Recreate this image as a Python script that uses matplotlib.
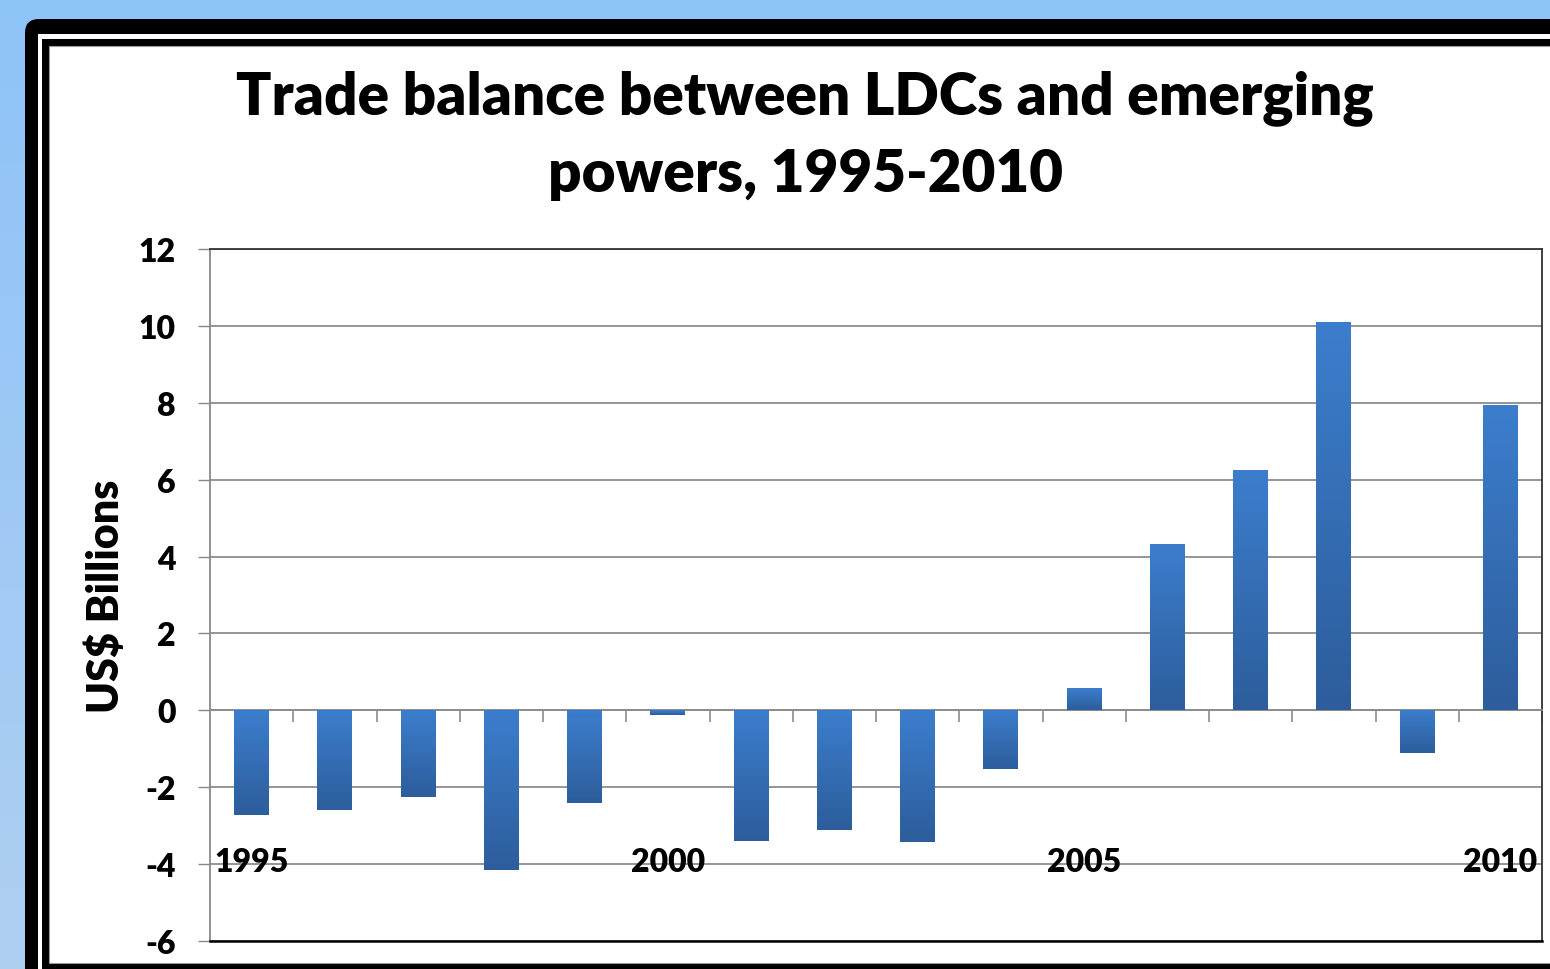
import numpy as np
import matplotlib
matplotlib.use("Agg")
from matplotlib import pyplot as plt
from matplotlib.patches import FancyBboxPatch, Rectangle

plt.rcParams['font.family'] = ['Lato', 'DejaVu Sans']
plt.rcParams['font.weight'] = 'heavy'
plt.rcParams['axes.unicode_minus'] = False

years = list(range(1995, 2011))
balance = [-2.73, -2.6, -2.26, -4.16, -2.42, -0.13, -3.41, -3.12,
           -3.43, -1.53, 0.57, 4.32, 6.24, 10.09, -1.12, 7.93]
year_labels = ['1995', '2000', '2005', '2010']
y_ticks = [-6, -4, -2, 0, 2, 4, 6, 8, 10, 12]

W, H = 1550, 970
fig = plt.figure(figsize=(W / 100, H / 100), dpi=100)

# background + slide frame, drawn in pixel coords
bg = fig.add_axes([0, 0, 1, 1], zorder=-10)
bg.set_xlim(0, W)
bg.set_ylim(H, 0)
bg.axis('off')
grad = np.linspace(0, 1, 256).reshape(-1, 1)
bg.imshow(grad, extent=[0, W, H, 0], aspect='auto',
          cmap=matplotlib.colors.LinearSegmentedColormap.from_list('bgc', ['#8ec3f8', '#afcff1']))
bg.add_patch(FancyBboxPatch((25, 20), 1600, 1000, boxstyle='round,pad=0,rounding_size=14',
                            fc='black', ec='none'))
bg.add_patch(Rectangle((38, 35), 1600, 1000, fc='white', ec='none'))
bg.add_patch(Rectangle((42, 40), 1600, 1000, fc='black', ec='none'))
bg.add_patch(Rectangle((49, 47), 1600, 917, fc='white', ec='#999999', lw=0.8))

fig.text(805 / W, 1 - 136 / H, 'Trade balance between LDCs and emerging\npowers, 1995-2010',
         ha='center', va='center', fontsize=42, fontweight='heavy', linespacing=1.5)

ax = fig.add_axes([210 / W, 28 / H, 1332 / W, 692 / H])
ax.set_facecolor('white')
x = np.arange(len(years))
width = 0.42
bars = ax.bar(x, balance, width=width, color='#3470b8', zorder=3)

# vertical gradient inside each bar (lighter on top)
cmap = matplotlib.colors.LinearSegmentedColormap.from_list('barc', ['#3c7ecd', '#2d5d9b'])
for b in bars:
    x0, y0 = b.get_x(), b.get_y()
    bw, bh = b.get_width(), b.get_height()
    top, bot = max(y0, y0 + bh), min(y0, y0 + bh)
    im = ax.imshow(grad, extent=[x0, x0 + bw, bot, top], origin='upper',
                   aspect='auto', cmap=cmap, zorder=4)
    im.set_clip_path(b)

ax.set_xlim(-0.5, len(years) - 0.5)
ax.set_ylim(-6, 12)
ax.set_yticks(y_ticks)
ax.tick_params(axis='y', labelsize=23, length=8.6, width=1, color='#888888', pad=16)
for t in ax.get_yticklabels():
    t.set_fontweight('heavy')
ax.yaxis.grid(True, color='#8c8c8c', lw=1.3, zorder=1)
ax.set_axisbelow(True)

# x axis sits on the zero line, ticks between categories
ax.spines['bottom'].set_position(('data', 0))
ax.spines['bottom'].set_color('#8c8c8c')
ax.spines['bottom'].set_linewidth(1.3)
ax.set_xticks(np.arange(len(years)) + 0.5)
ax.set_xticklabels([])
ax.tick_params(axis='x', length=8.6, width=1.2, color='#8c8c8c', direction='out')
ax.axhline(-6, color='black', lw=1.8, zorder=5, clip_on=False)
ax.spines['left'].set_color('#888888')
ax.spines['left'].set_linewidth(1.3)
for s in ['top', 'right']:
    ax.spines[s].set_color('#333333')
    ax.spines[s].set_linewidth(1.3)

for lab in year_labels:
    ax.text(years.index(int(lab)), -3.93, lab, ha='center', va='center',
            fontsize=23, fontweight='heavy', zorder=6)

ax.set_ylabel('US$ Billions', fontsize=31, fontweight='heavy', labelpad=9)

fig.savefig('out.png', dpi=100)
